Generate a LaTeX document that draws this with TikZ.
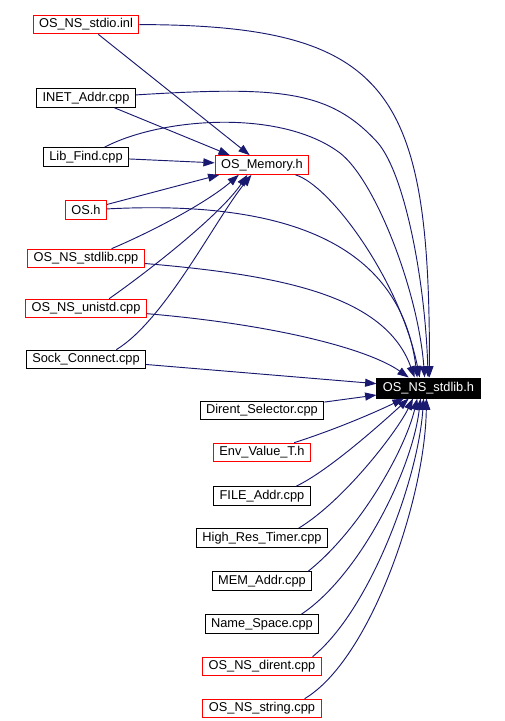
\documentclass[tikz,border=0pt]{standalone}
\usepackage{fontspec}
\setmainfont{Liberation Sans}
\usetikzlibrary{arrows.meta}
\definecolor{edgeblue}{HTML}{191970}
\begin{document}
\begin{tikzpicture}[
  x=0.75pt, y=-0.75pt,
  srcbox/.style={draw, line width=0.75pt, inner xsep=4.5pt, inner ysep=0pt, minimum height=14pt, font=\fontsize{9.6}{11}\selectfont},
  redbox/.style={srcbox, draw=red},
  mainbox/.style={srcbox, fill=black, text=white, minimum height=15pt},
  arrow/.style={-{Triangle[length=8.5pt,width=6pt]}, color=edgeblue, line width=0.7pt}
]
\useasboundingbox (0,0) rectangle (505,721);
\node[redbox] (stdio) at (86,24.5) {OS\_NS\_stdio.inl};
\node[srcbox] (inet) at (86,98) {INET\_Addr.cpp};
\node[srcbox] (libfind) at (86,157) {Lib\_Find.cpp};
\node[redbox] (memory) at (262,165) {OS\_Memory.h};
\node[redbox] (osh) at (86,210) {OS.h};
\node[redbox] (stdlibcpp) at (86,258.5) {OS\_NS\_stdlib.cpp};
\node[redbox] (unistd) at (86,308.5) {OS\_NS\_unistd.cpp};
\node[srcbox] (sock) at (86,359.5) {Sock\_Connect.cpp};
\node[mainbox] (stdlibh) at (428.5,388) {OS\_NS\_stdlib.h};
\node[srcbox] (dirsel) at (262,410.5) {Dirent\_Selector.cpp};
\node[redbox] (envval) at (262,452.5) {Env\_Value\_T.h};
\node[srcbox] (fileaddr) at (262,496) {FILE\_Addr.cpp};
\node[srcbox] (hrtimer) at (262,538) {High\_Res\_Timer.cpp};
\node[srcbox] (memaddr) at (262,581) {MEM\_Addr.cpp};
\node[srcbox] (namespace) at (262,624) {Name\_Space.cpp};
\node[redbox] (dirent) at (262,666.5) {OS\_NS\_dirent.cpp};
\node[redbox] (string) at (262,708.5) {OS\_NS\_string.cpp};
\draw[arrow] (stdio) -- (memory);
\draw[arrow] (inet.341) -- (memory.163);
\draw[arrow] (libfind) -- (memory);
\draw[arrow] (osh) -- (memory.193);
\draw[arrow] (stdlibcpp.21) .. controls (160,228) and (210,200) .. (memory.203);
\draw[arrow] (unistd.23) .. controls (150,270) and (220,215) .. (memory.214);
\draw[arrow] (sock.18) .. controls (165,320) and (215,220) .. (memory.223);
\draw[arrow] (stdio) .. controls (390,25) and (430,90) .. (stdlibh.85);
\draw[arrow] (inet) .. controls (280,86) and (330,90) .. (378,143) .. controls (405,175) and (425,280) .. (stdlibh.92);
\draw[arrow] (libfind) .. controls (160,118) and (280,108) .. (340,153) .. controls (375,180) and (418,290) .. (stdlibh.110);
\draw[arrow] (memory) .. controls (330,185) and (400,280) .. (stdlibh.130);
\draw[arrow] (osh) .. controls (280,200) and (400,240) .. (stdlibh.137);
\draw[arrow] (stdlibcpp) .. controls (280,275) and (385,295) .. (stdlibh.143);
\draw[arrow] (unistd) .. controls (280,325) and (370,350) .. (stdlibh.152);
\draw[arrow] (sock) -- (stdlibh);
\draw[arrow] (dirsel) -- (stdlibh);
\draw[arrow] (envval.17) .. controls (340,428) and (380,410) .. (stdlibh.203);
\draw[arrow] (fileaddr.16) .. controls (330,470) and (385,420) .. (stdlibh.208);
\draw[arrow] (hrtimer.15) .. controls (345,500) and (398,430) .. (stdlibh.214);
\draw[arrow] (memaddr.12) .. controls (360,530) and (405,450) .. (stdlibh.223);
\draw[arrow] (namespace.14) .. controls (360,575) and (412,470) .. (stdlibh.233);
\draw[arrow] (dirent.11) .. controls (370,610) and (418,480) .. (stdlibh.245);
\draw[arrow] (string.13) .. controls (370,660) and (425,500) .. (stdlibh.259);
\end{tikzpicture}
\end{document}
